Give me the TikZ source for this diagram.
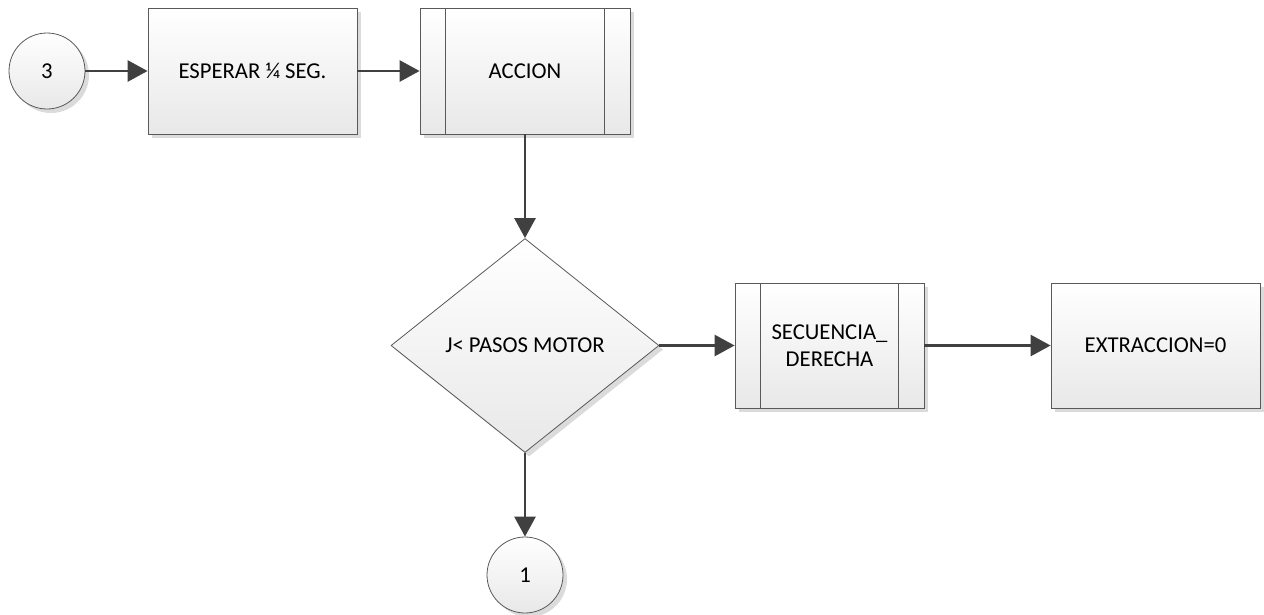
\documentclass[tikz,border=0pt]{standalone}
\usepackage{fontspec}
\setmainfont{Carlito}
\usetikzlibrary{shapes.geometric,arrows.meta,shadows}
\definecolor{edgec}{HTML}{404040}
\definecolor{bordc}{HTML}{595959}
\begin{document}
\begin{tikzpicture}[x=1pt,y=-1pt,
  base/.style={draw=bordc, line width=0.8pt, top color=white, bottom color=black!9,
    font=\fontsize{22.7}{27}\selectfont, text=black, inner sep=0pt, align=center,
    drop shadow={shadow xshift=4pt, shadow yshift=-4pt, fill=black!14, opacity=1}},
  rectbox/.style={base, rectangle, minimum width=#1},
  rectbox/.default=210pt,
  procbox/.style={base, rectangle, minimum width=#1,
    path picture={\draw[bordc, line width=0.8pt]
      ([xshift=25.5pt]path picture bounding box.north west) -- ([xshift=25.5pt]path picture bounding box.south west)
      ([xshift=-25.5pt]path picture bounding box.north east) -- ([xshift=-25.5pt]path picture bounding box.south east);}},
  conncircle/.style={base, circle, minimum size=76pt},
  decision/.style={base, diamond, minimum width=268pt, minimum height=214pt},
  conn/.style={draw=edgec, line width=2.8pt, -{Triangle[length=20pt,width=21pt]}}
]
\useasboundingbox (0,0) rectangle (1264,614);

\node[conncircle] (c3) at (47,71) {3};
\node[rectbox=209pt, minimum height=126pt] (esp) at (252.5,71) {ESPERAR ¼ SEG.};
\node[procbox=210pt, minimum height=126pt] (acc) at (525,71) {ACCION};
\node[decision] (dec) at (525,345.5) {J< PASOS MOTOR};
\node[procbox=189pt, minimum height=125pt] (sec) at (829.5,345.5) {SECUENCIA\_\\DERECHA};
\node[rectbox=209pt, minimum height=125pt] (ext) at (1155.5,345.5) {EXTRACCION=0};
\node[conncircle] (c1) at (525,575) {1};

\draw[conn] (c3) -- (esp);
\draw[conn] (esp) -- (acc);
\draw[conn] (acc) -- (dec);
\draw[conn] (dec) -- (sec);
\draw[conn] (sec) -- (ext);
\draw[conn] (dec) -- (c1);
\end{tikzpicture}
\end{document}
